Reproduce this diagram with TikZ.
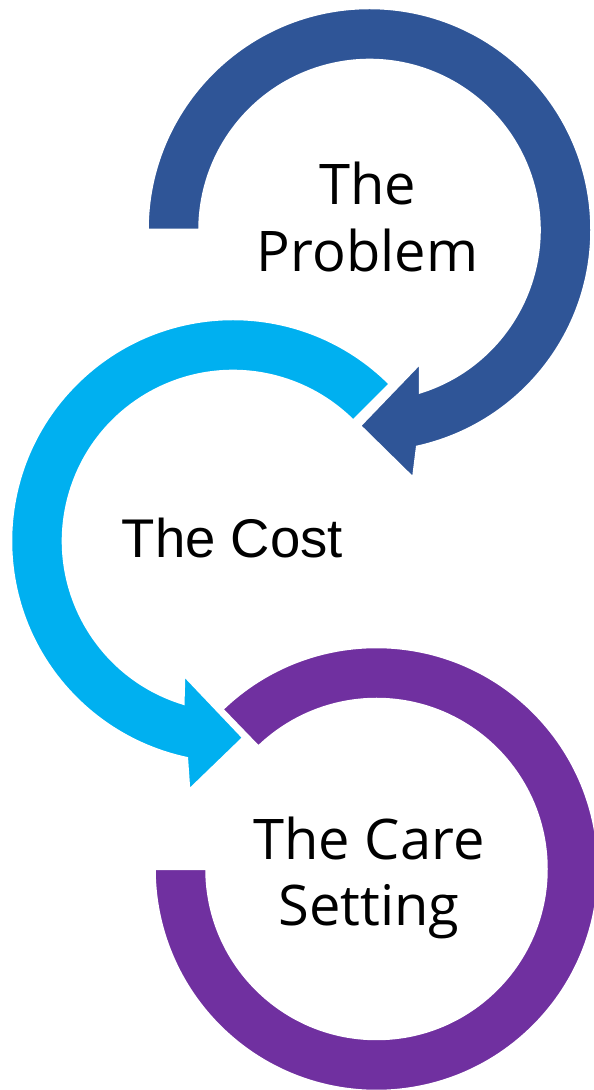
\documentclass[tikz,border=0pt]{standalone}
\usepackage{fontspec}
\usetikzlibrary{calc}
\setmainfont{Open Sans}
\newfontfamily\arialfont{Liberation Sans}
\definecolor{ringblue}{HTML}{2F5597}
\definecolor{ringcyan}{HTML}{00B0F0}
\definecolor{ringpurple}{HTML}{7030A0}
\begin{document}
\begin{tikzpicture}[x=1pt,y=1pt,
  ring/.style={draw=white,line width=2.5pt,line join=miter},
  label/.style={inner sep=0pt,align=center,anchor=base,text=black}]
\useasboundingbox (0,0) rectangle (594,1090);
\coordinate (cb) at (369.5,860);
\coordinate (cc) at (233,549);
\coordinate (cp) at (376.5,221);
% purple ring, open at the upper left
\fill[ring,fill=ringpurple]
  ($(cp)+(134:222)$) arc[start angle=134,end angle=-180,radius=222]
  -- ($(cp)+(180:170)$) arc[start angle=-180,end angle=134,radius=170] -- cycle;
% cyan circular arrow, counter-clockwise
\fill[ring,fill=ringcyan]
  ($(cc)+(45:222)$) arc[start angle=45,end angle=258,radius=222]
  -- ($(cc)+(260:253)$) -- ($(cc)+(273:197)$) -- ($(cc)+(250:143)$)
  -- ($(cc)+(253:170)$) arc[start angle=253,end angle=45,radius=170] -- cycle;
% dark blue circular arrow, clockwise
\fill[ring,fill=ringblue]
  ($(cb)+(180:222)$) arc[start angle=180,end angle=-77.6,radius=222]
  -- ($(cb)+(-80:252)$) -- ($(cb)+(-92.8:196)$) -- ($(cb)+(-69.2:142.5)$)
  -- ($(cb)+(-72.7:170)$) arc[start angle=-72.7,end angle=180,radius=170] -- cycle;
% labels (base anchor sits on the last line)
\node[label,font=\fontsize{56}{67}\selectfont] (problem) at (367.5,818) {The\\Problem};
\node[label,font=\arialfont\fontsize{54.5}{64}\selectfont] (cost) at (232.5,532) {The Cost};
\node[label,font=\fontsize{56}{66}\selectfont] (care) at (369,164) {The Care\\Setting};
\end{tikzpicture}
\end{document}
